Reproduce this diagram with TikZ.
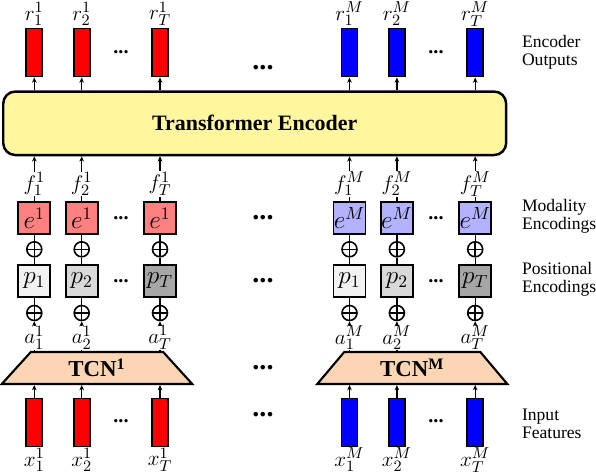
\documentclass[tikz,border=0pt]{standalone}
\usepackage[no-math]{fontspec}
\setmainfont{Liberation Serif}
\usetikzlibrary{arrows.meta, shapes.geometric}
\definecolor{barred}{RGB}{255, 0, 0}
\definecolor{barblue}{RGB}{0, 0, 255}
\definecolor{encyellow}{RGB}{255, 246, 158}
\definecolor{tcnorange}{RGB}{252, 213, 180}
\definecolor{modone}{RGB}{255, 128, 128}
\definecolor{modm}{RGB}{178, 178, 255}
\definecolor{pos1}{RGB}{242, 242, 242}
\definecolor{pos2}{RGB}{217, 217, 217}
\definecolor{posT}{RGB}{166, 166, 166}

\begin{document}
\begin{tikzpicture}[x=0.02cm, y=-0.02cm,
    bar/.style={draw, line width=1.1pt, minimum width=0.32cm, minimum height=0.96cm, inner sep=0pt},
    sq/.style={draw, line width=1.1pt, minimum size=0.64cm, inner sep=0pt, font=\fontsize{14}{16}\selectfont},
    lab/.style={inner sep=0.3pt, font=\fontsize{12.5}{14}\selectfont},
    oplus/.style={draw, circle, line width=0.9pt, minimum size=0.3cm, inner sep=0pt,
      path picture={\draw[line width=0.9pt] (path picture bounding box.north) -- (path picture bounding box.south)
        (path picture bounding box.west) -- (path picture bounding box.east);}},
    arr/.style={-{Stealth[length=3pt, width=2.6pt]}, line width=0.7pt},
    conn/.style={line width=0.7pt},
    side/.style={anchor=west, align=left, inner sep=0pt, font=\fontsize{10}{10}\selectfont},
    gdots/.style={inner sep=0pt, font=\fontsize{11.5}{11}\selectfont\bfseries},
    bigdots/.style={inner sep=0pt, font=\fontsize{16}{16}\selectfont\bfseries}]
  \useasboundingbox (0,0) rectangle (596,474);

  % shared blocks
  \node[draw, line width=1.4pt, fill=encyellow, rounded corners=0.24cm, minimum width=10.06cm,
    minimum height=1.27cm, font=\fontsize{12.5}{14}\selectfont\bfseries] (enc) at (254.7,123.3) {Transformer Encoder};
  \node[draw, line width=1.2pt, fill=tcnorange, trapezium, trapezium stretches=true, trapezium angle=63.4,
    minimum width=3.82cm, minimum height=0.64cm, font=\fontsize{13}{14}\selectfont\bfseries] (tcn1) at (97,368) {TCN\textsuperscript{1}};
  \node[draw, line width=1.2pt, fill=tcnorange, trapezium, trapezium stretches=true, trapezium angle=63.4,
    minimum width=3.82cm, minimum height=0.64cm, font=\fontsize{13}{14}\selectfont\bfseries] (tcnM) at (412.3,368) {TCN\textsuperscript{M}};

  % one stack per time step and modality
  \foreach \m/\off/\bcol/\ecol in {1/0/barred/modone, M/315.2/barblue/modm} {
    \foreach \i/\dx in {1/0, 2/47.4, T/125.7} {
      \pgfmathsetmacro\cx{34.3+\off+\dx}
      \node[bar, fill=\bcol] (r\m\i) at (\cx,52.5) {};
      \node[lab] (rl\m\i) at (\cx,14) {$r_{\i}^{\m}$};
      \node[lab] (f\m\i) at (\cx,184) {$f_{\i}^{\m}$};
      \node[sq, fill=\ecol] (e\m\i) at (\cx,218) {$e^{\m}$};
      \node[oplus] (s\m\i) at (\cx,249.3) {};
      \node[sq, fill=pos\i] (p\m\i) at (\cx,281) {$p_{\i}$};
      \node[oplus] (t\m\i) at (\cx,313) {};
      \node[lab] (a\m\i) at (\cx,337.5) {$a_{\i}^{\m}$};
      \node[bar, fill=\bcol] (x\m\i) at (\cx,422.5) {};
      \node[lab] (xl\m\i) at (\cx,460) {$x_{\i}^{\m}$};
      \draw[arr] (r\m\i.south |- enc.north) -- (r\m\i.south);
      \draw[conn] (e\m\i.north) -- (f\m\i.south);
      \draw[arr] (f\m\i.north) -- (f\m\i.north |- enc.south);
      \draw[conn] (e\m\i.south) -- (s\m\i.north);
      \draw[conn] (s\m\i.south) -- (p\m\i.north);
      \draw[conn] (p\m\i.south) -- (t\m\i.north);
      \draw[arr] (a\m\i.north) -- (t\m\i.south);
      \draw[conn] (a\m\i.south |- tcn\m.north) -- (a\m\i.south);
      \draw[arr] (x\m\i.north) -- (x\m\i.north |- tcn\m.south);
    }
  }

  % dots
  \foreach \gx in {121,436}
    \foreach \gy [count=\k] in {52,218,281,421.5}
      \node[gdots] (g\gx-\k) at (\gx,\gy) {...};
  \foreach \gy [count=\k] in {68,218,281,368,415}
    \node[bigdots] (mid\k) at (263,\gy) {...};

  % row captions
  \node[side] (capout) at (521.7,52) {Encoder\\Outputs};
  \node[side] (capmod) at (521.7,216.5) {Modality\\Encodings};
  \node[side] (cappos) at (521.7,279.5) {Positional\\Encodings};
  \node[side] (capin) at (521.7,424) {Input\\Features};
\end{tikzpicture}
\end{document}
